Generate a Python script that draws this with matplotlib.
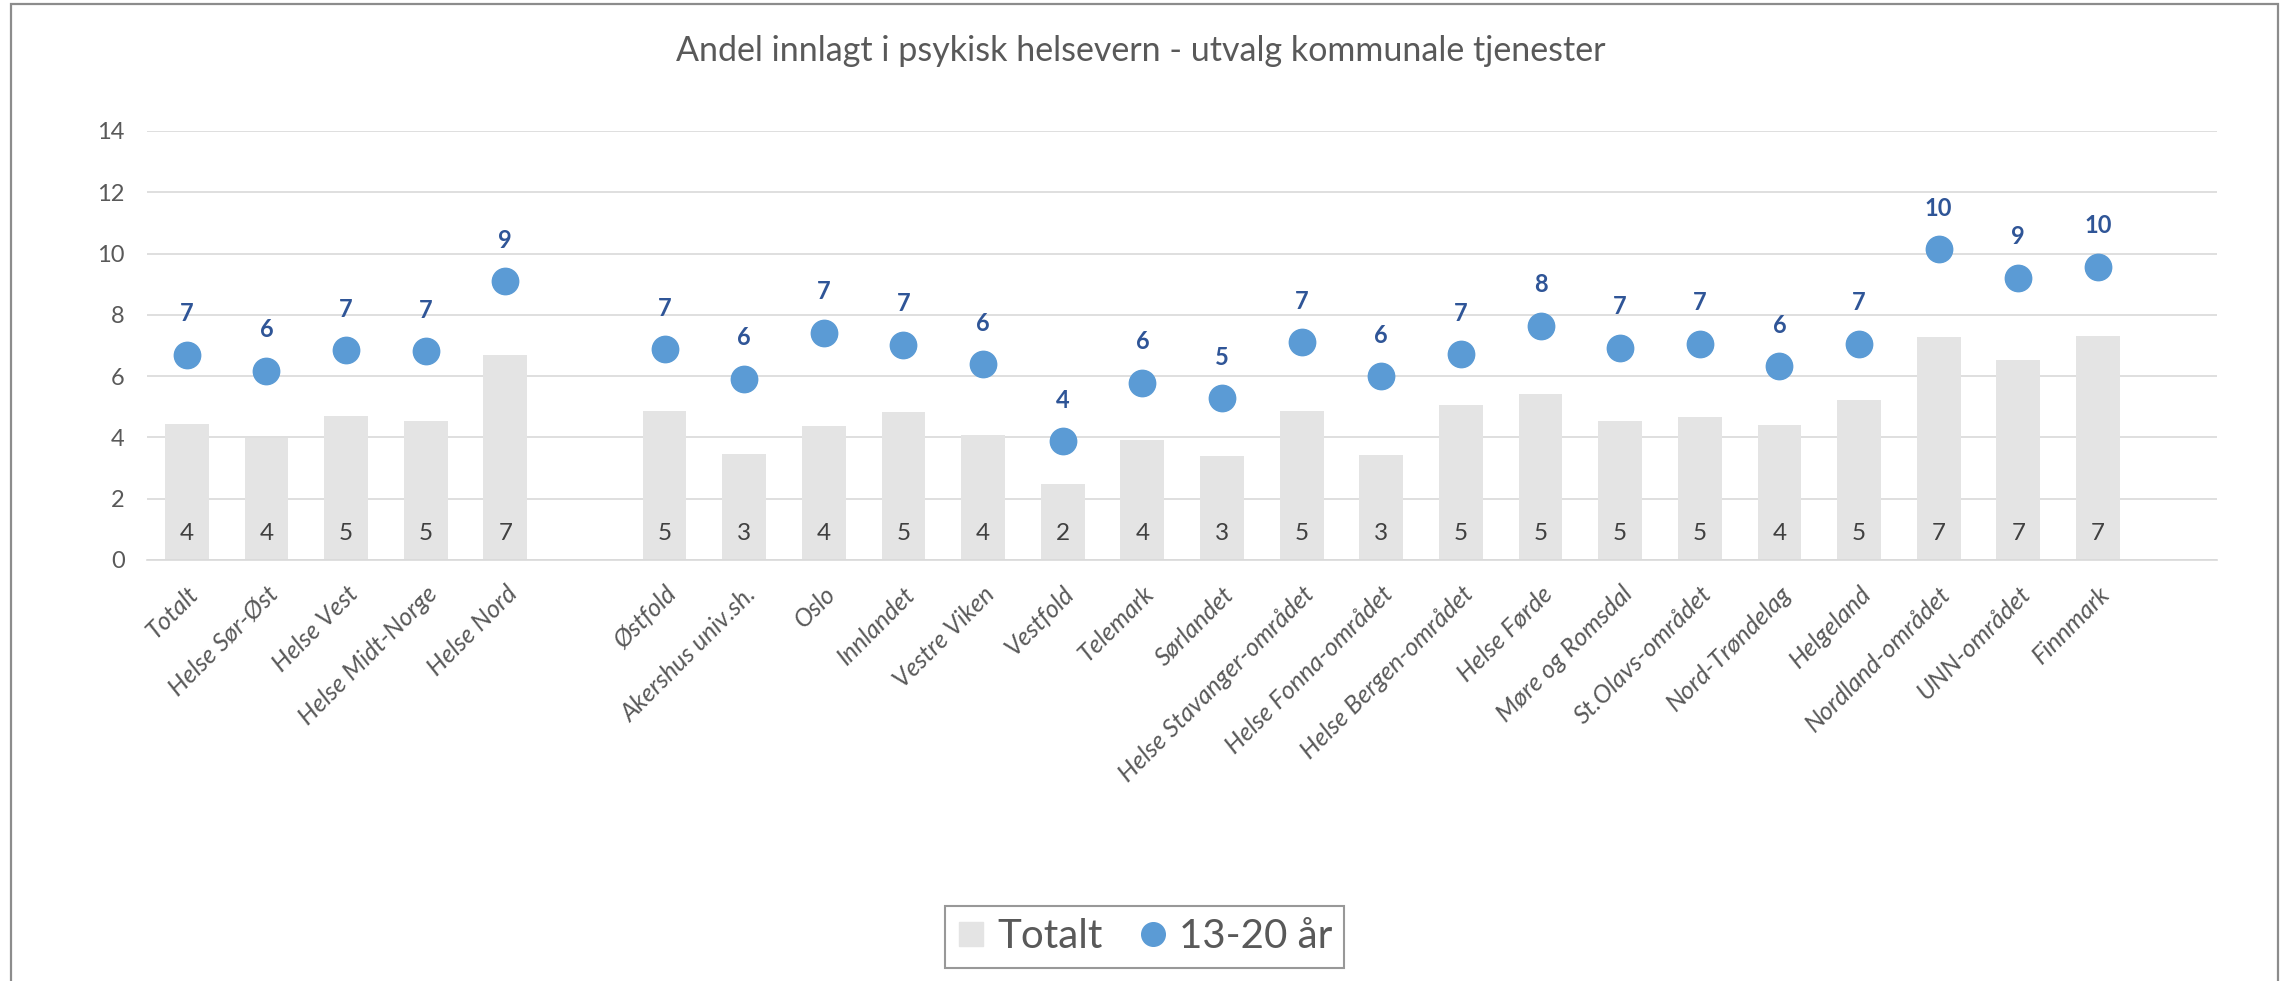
import numpy as np
import matplotlib
matplotlib.use("Agg")
import matplotlib.pyplot as plt
import matplotlib.transforms as mtransforms
from matplotlib.lines import Line2D
from matplotlib.patches import Rectangle

plt.rcParams["font.family"] = ["Lato", "DejaVu Sans"]

# "" = empty slot between the regions and the local areas
categories = [
    "Totalt", "Helse Sør-Øst", "Helse Vest", "Helse Midt-Norge", "Helse Nord",
    "",
    "Østfold", "Akershus univ.sh.", "Oslo", "Innlandet", "Vestre Viken",
    "Vestfold", "Telemark", "Sørlandet", "Helse Stavanger-området",
    "Helse Fonna-området", "Helse Bergen-området", "Helse Førde",
    "Møre og Romsdal", "St.Olavs-området", "Nord-Trøndelag", "Helgeland",
    "Nordland-området", "UNN-området", "Finnmark",
]

totalt = [
    4.45, 3.99, 4.70, 4.54, 6.69,
    np.nan,
    4.86, 3.46, 4.37, 4.83, 4.07, 2.48, 3.92, 3.39, 4.87, 3.43, 5.06,
    5.41, 4.52, 4.67, 4.41, 5.21, 7.28, 6.52, 7.31,
]

age_13_20 = [
    6.69, 6.17, 6.84, 6.81, 9.09,
    np.nan,
    6.87, 5.91, 7.42, 7.02, 6.38, 3.87, 5.78, 5.28, 7.10, 6.00, 6.71,
    7.65, 6.93, 7.05, 6.32, 7.06, 10.14, 9.21, 9.57,
]

yticks = [0, 2, 4, 6, 8, 10, 12, 14]

TEXT_GREY = "#595959"
BAR_COLOR = "#E4E4E4"
DOT_COLOR = "#5B9BD5"
DOT_LABEL = "#2F5597"
GRID = "#D9D9D9"


def main():
    fig = plt.figure(figsize=(22.82, 9.81), dpi=100)
    ax = fig.add_axes([0.0644, 0.4292, 0.9073, 0.4373])

    x = np.arange(len(categories))

    ax.bar(x, totalt, width=0.55, color=BAR_COLOR, zorder=2)
    ax.plot(x, age_13_20, linestyle="none", marker="o", markersize=19,
            color=DOT_COLOR, zorder=3)

    for xi, v in zip(x, totalt):
        if np.isnan(v):
            continue
        ax.text(xi, 0.87, f"{v:.0f}", ha="center", va="center",
                fontsize=17.5, color="#404040", zorder=4)

    for xi, v in zip(x, age_13_20):
        if np.isnan(v):
            continue
        ax.annotate(f"{v:.0f}", (xi, v), xytext=(0, 29.5),
                    textcoords="offset points", ha="center", va="center",
                    fontsize=17, fontweight="bold", color=DOT_LABEL, zorder=4)

    ax.set_xlim(-0.5, len(categories) + 0.5)
    ax.set_ylim(0, 14)
    ax.set_yticks(yticks)
    ax.set_yticklabels([str(t) for t in yticks])
    ax.yaxis.grid(True, color=GRID, linewidth=1.2, zorder=0)
    ax.set_axisbelow(True)

    ax.set_xticks(x)
    ax.set_xticklabels(categories, rotation=45, ha="right", va="top",
                       rotation_mode="anchor", fontstyle="italic")
    shift = mtransforms.ScaledTranslation(0.07, 0, fig.dpi_scale_trans)
    for lab in ax.get_xticklabels():
        lab.set_transform(lab.get_transform() + shift)

    ax.tick_params(axis="x", length=0, pad=16, labelsize=18,
                   labelcolor=TEXT_GREY)
    ax.tick_params(axis="y", length=0, pad=16, labelsize=17,
                   labelcolor=TEXT_GREY)

    for side in ["top", "right", "left"]:
        ax.spines[side].set_visible(False)
    ax.spines["bottom"].set_color(GRID)
    ax.spines["bottom"].set_linewidth(1.2)

    fig.text(0.5, 0.948, "Andel innlagt i psykisk helsevern - utvalg kommunale tjenester",
             ha="center", va="center", fontsize=24.5, color=TEXT_GREY)

    handles = [
        Line2D([], [], linestyle="none", marker="s", markersize=17,
               color=BAR_COLOR),
        Line2D([], [], linestyle="none", marker="o", markersize=17,
               color=DOT_COLOR),
    ]
    leg = fig.legend(handles, ["Totalt", "13-20 år"], loc="center",
                     bbox_to_anchor=(0.5015, 0.0449), ncol=2, fontsize=29,
                     frameon=True, fancybox=False, handlelength=0.7,
                     handletextpad=0.3, columnspacing=0.9, borderpad=0.3)
    leg.get_frame().set_edgecolor("#7F7F7F")
    leg.get_frame().set_linewidth(1.5)
    for t in leg.get_texts():
        t.set_color(TEXT_GREY)

    # outer chart border
    fig.patches.append(Rectangle((11 / 2282, -0.1), 2267 / 2282, 1.1 - 4 / 981,
                                 transform=fig.transFigure, fill=False,
                                 edgecolor="#8C8C8C", linewidth=1.6))

    fig.savefig("out.png", dpi=100)
    plt.close(fig)


if __name__ == "__main__":
    main()
